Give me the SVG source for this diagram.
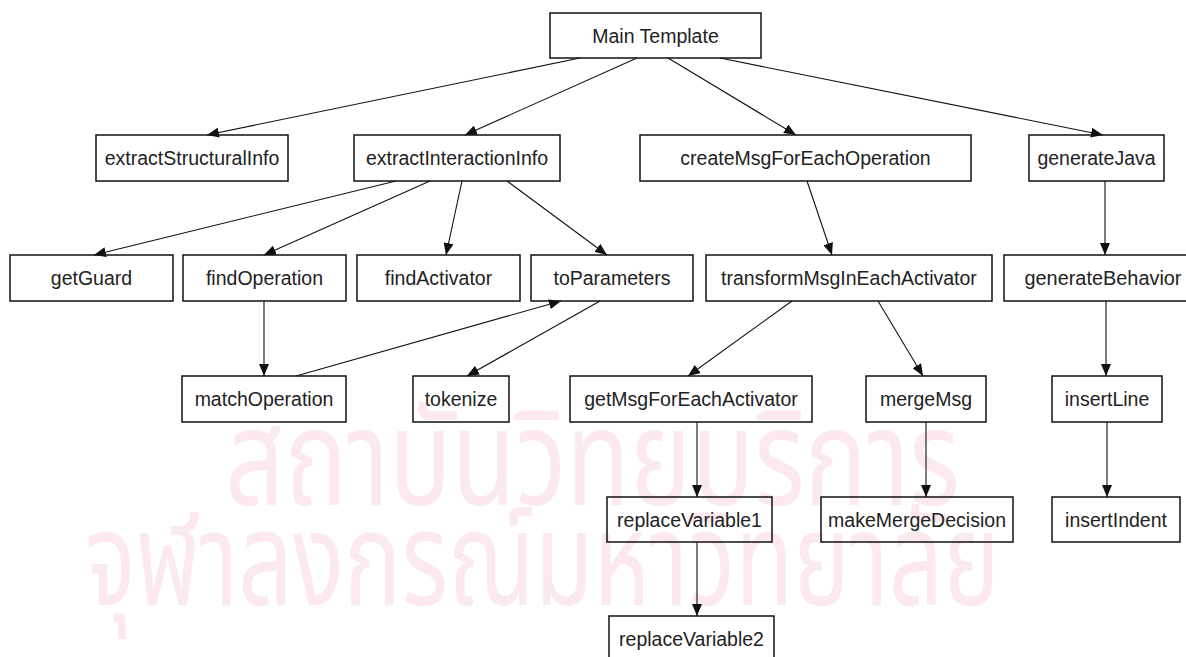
<svg xmlns="http://www.w3.org/2000/svg" width="1186" height="657" viewBox="0 0 1186 657">
  <style>
    .box { fill: none; stroke: #111; stroke-width: 1.5; }
    .lbl { font-family: "Liberation Sans", Arial, sans-serif; font-size: 19.5px; fill: #222; text-anchor: middle; dominant-baseline: central; }
    .edge { stroke: #111; stroke-width: 1.1; fill: none; marker-end: url(#arrow); }
    .wm { font-family: "Noto Sans Thai", "Loma", "Garuda", "Norasi", "DejaVu Sans", sans-serif; fill: #fbe9ee; }
  </style>
  <defs>
    <marker id="arrow" viewBox="0 0 12 10" refX="12" refY="5" markerWidth="12" markerHeight="10" markerUnits="userSpaceOnUse" orient="auto">
      <path d="M0,0 L12,5 L0,10 z" fill="#111"/>
    </marker>
  </defs>

  <rect x="0" y="0" width="1186" height="657" fill="#fff"/>

  <!-- background watermark -->
  <g id="watermark">
    <text class="wm" x="225" y="505" font-size="135" textLength="735" lengthAdjust="spacingAndGlyphs">สถาบันวิทยบริการ</text>
    <text class="wm" x="85" y="605" font-size="130" textLength="915" lengthAdjust="spacingAndGlyphs">จุฬาลงกรณ์มหาวิทยาลัย</text>
  </g>

  <!-- connectors -->
  <g id="connectors">
    <line class="edge" x1="580" y1="58" x2="207" y2="135"/>
    <line class="edge" x1="637" y1="58" x2="465" y2="135"/>
    <line class="edge" x1="668" y1="58" x2="796" y2="135"/>
    <line class="edge" x1="720" y1="58" x2="1103" y2="135"/>

    <line class="edge" x1="396" y1="181" x2="94" y2="255"/>
    <line class="edge" x1="430" y1="181" x2="264" y2="255"/>
    <line class="edge" x1="462" y1="181" x2="446" y2="255"/>
    <line class="edge" x1="507" y1="181" x2="607" y2="255"/>

    <line class="edge" x1="807" y1="181" x2="832" y2="255"/>
    <line class="edge" x1="1105" y1="181" x2="1105" y2="255"/>

    <line class="edge" x1="264" y1="301" x2="264" y2="376"/>
    <line class="edge" x1="296" y1="376" x2="561" y2="301"/>
    <line class="edge" x1="600" y1="301" x2="467" y2="376"/>
    <line class="edge" x1="792" y1="301" x2="688" y2="376"/>
    <line class="edge" x1="878" y1="301" x2="923" y2="376"/>
    <line class="edge" x1="1106" y1="301" x2="1106" y2="376"/>

    <line class="edge" x1="697" y1="422" x2="697" y2="497"/>
    <line class="edge" x1="926" y1="422" x2="926" y2="497"/>
    <line class="edge" x1="1107" y1="422" x2="1107" y2="497"/>

    <line class="edge" x1="697" y1="542" x2="697" y2="616"/>
  </g>

  <!-- nodes -->
  <g id="mainTemplate"><rect class="box" x="550" y="13" width="211" height="45"/><text class="lbl" x="655.5" y="35.5">Main Template</text></g>

  <g id="extractStructuralInfo"><rect class="box" x="96" y="135" width="192" height="46"/><text class="lbl" x="192" y="158">extractStructuralInfo</text></g>
  <g id="extractInteractionInfo"><rect class="box" x="354" y="135" width="206" height="46"/><text class="lbl" x="457" y="158">extractInteractionInfo</text></g>
  <g id="createMsgForEachOperation"><rect class="box" x="640" y="135" width="331" height="46"/><text class="lbl" x="805.5" y="158">createMsgForEachOperation</text></g>
  <g id="generateJava"><rect class="box" x="1029" y="135" width="135" height="46"/><text class="lbl" x="1096.5" y="158">generateJava</text></g>

  <g id="getGuard"><rect class="box" x="10" y="255" width="163" height="46"/><text class="lbl" x="91.5" y="278">getGuard</text></g>
  <g id="findOperation"><rect class="box" x="183" y="255" width="163" height="46"/><text class="lbl" x="264.5" y="278">findOperation</text></g>
  <g id="findActivator"><rect class="box" x="357" y="255" width="163" height="46"/><text class="lbl" x="438.5" y="278">findActivator</text></g>
  <g id="toParameters"><rect class="box" x="531" y="255" width="162" height="46"/><text class="lbl" x="612" y="278">toParameters</text></g>
  <g id="transformMsgInEachActivator"><rect class="box" x="706" y="255" width="286" height="46"/><text class="lbl" x="849" y="278">transformMsgInEachActivator</text></g>
  <g id="generateBehavior"><rect class="box" x="1004" y="255" width="204" height="46"/><text class="lbl" x="1103" y="278" textLength="157" lengthAdjust="spacingAndGlyphs">generateBehavior</text></g>

  <g id="matchOperation"><rect class="box" x="182" y="376" width="164" height="46"/><text class="lbl" x="264" y="399">matchOperation</text></g>
  <g id="tokenize"><rect class="box" x="413" y="376" width="96" height="46"/><text class="lbl" x="461" y="399">tokenize</text></g>
  <g id="getMsgForEachActivator"><rect class="box" x="570" y="376" width="242" height="46"/><text class="lbl" x="691" y="399">getMsgForEachActivator</text></g>
  <g id="mergeMsg"><rect class="box" x="866" y="376" width="120" height="46"/><text class="lbl" x="926" y="399">mergeMsg</text></g>
  <g id="insertLine"><rect class="box" x="1052" y="376" width="110" height="46"/><text class="lbl" x="1107" y="399">insertLine</text></g>

  <g id="replaceVariable1"><rect class="box" x="607" y="497" width="165" height="45"/><text class="lbl" x="689.5" y="519.5">replaceVariable1</text></g>
  <g id="makeMergeDecision"><rect class="box" x="821" y="497" width="192" height="45"/><text class="lbl" x="917" y="519.5" textLength="178" lengthAdjust="spacingAndGlyphs">makeMergeDecision</text></g>
  <g id="insertIndent"><rect class="box" x="1052" y="497" width="128" height="45"/><text class="lbl" x="1116" y="519.5">insertIndent</text></g>

  <g id="replaceVariable2"><rect class="box" x="609" y="616" width="165" height="46"/><text class="lbl" x="691.5" y="639">replaceVariable2</text></g>
</svg>
